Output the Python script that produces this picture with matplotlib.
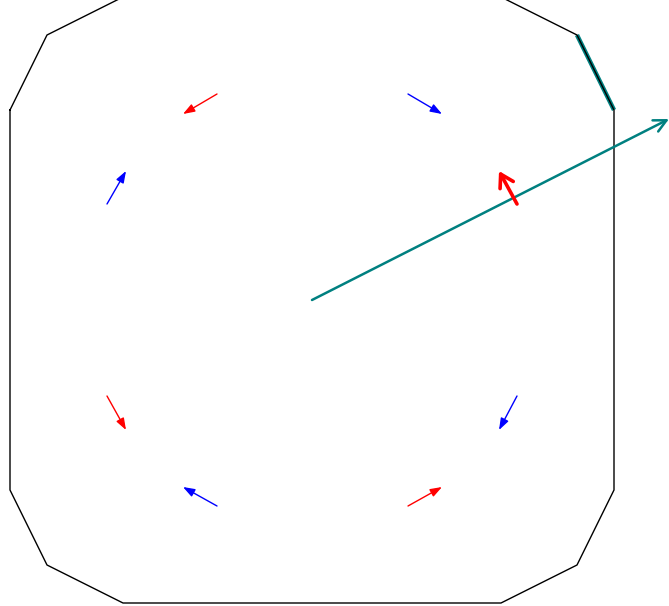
"""
Polygon boundary with tangential arrows around a circle, a teal ray from the centre
and one highlighted edge. Coordinates are in pixels relative to the centre, y up.
"""
import matplotlib; matplotlib.use("Agg")
import matplotlib.pyplot as plt

TEAL = "#008080"

# boundary polygon vertices
poly_x = [-302, -265, -189, 189, 265, 302, 302, 265, 189, -189, -265, -302]
poly_y = [190, 265, 303, 303, 265, 190, -190, -265, -303, -303, -265, -190]

# small arrows: start -> end
arr_x0 = [-95, 96, -205, -205, 205, -95, 96]
arr_y0 = [206, 206, 96, -96, -96, -206, -206]
arr_x1 = [-129, 130, -186, -186, 187, -129, 130]
arr_y1 = [186, 186, 129, -130, -130, -187, -187]
arr_col = ["red", "blue", "blue", "red", "blue", "blue", "red"]

# the highlighted thick arrow
big_x0, big_y0, big_x1, big_y1 = 205, 96, 187, 129

# teal ray from centre
ray_x0, ray_y0, ray_x1, ray_y1 = 0, 0, 357, 181

# highlighted edge
edge_x = [265, 302]
edge_y = [265, 190]

fig = plt.figure(figsize=(6.69, 6.06), dpi=100)
ax = fig.add_axes([0, 0, 1, 1])
ax.set_xlim(-312, 357); ax.set_ylim(-306, 300)
ax.axis("off")

ax.plot(edge_x, edge_y, color=TEAL, lw=3.2, solid_capstyle="butt", zorder=2)
ax.plot(poly_x + poly_x[:1], poly_y + poly_y[:1], color="black", lw=1.0, zorder=3)

for x0, y0, x1, y1, c in zip(arr_x0, arr_y0, arr_x1, arr_y1, arr_col):
    ax.annotate("", xy=(x1, y1), xytext=(x0, y0),
                arrowprops=dict(arrowstyle="-|>,head_length=0.7,head_width=0.25", color=c,
                                lw=1.0, shrinkA=0, shrinkB=0, mutation_scale=10))

ax.annotate("", xy=(big_x1, big_y1), xytext=(big_x0, big_y0),
            arrowprops=dict(arrowstyle="->,head_length=0.5,head_width=0.3", color="red",
                            lw=2.6, shrinkA=0, shrinkB=0, mutation_scale=18), zorder=5)

ax.annotate("", xy=(ray_x1, ray_y1), xytext=(ray_x0, ray_y0),
            arrowprops=dict(arrowstyle="->,head_length=0.5,head_width=0.25", color=TEAL,
                            lw=1.8, shrinkA=0, shrinkB=0, mutation_scale=18), zorder=4)

fig.savefig("out.png", dpi=100)
